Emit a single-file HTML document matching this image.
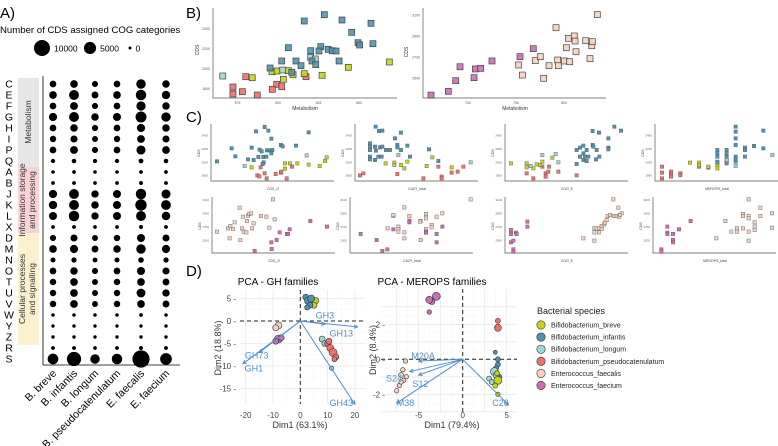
<!DOCTYPE html>
<html><head><meta charset="utf-8">
<style>
html,body{margin:0;padding:0;background:#fff;}
svg{display:block;font-family:"Liberation Sans",sans-serif;}
</style></head>
<body>
<svg id="fig" width="778" height="446" viewBox="0 0 778 446" xmlns="http://www.w3.org/2000/svg">
<g id="pA">
<text x="0" y="18" font-size="15">A)</text>
<text x="0" y="33" font-size="9.6">Number of CDS assigned COG categories</text>
<rect x="18" y="78" width="21" height="89" fill="#e6e6e6"/>
<rect x="18" y="167" width="21" height="66" fill="#f8d2d5"/>
<rect x="18" y="233" width="21" height="112" fill="#fcf0cf"/>
<text transform="translate(31,122) rotate(-90)" text-anchor="middle" font-size="8.5" fill="#333">Metabolism</text>
<text transform="translate(25,200) rotate(-90)" text-anchor="middle" font-size="8.5" fill="#333"><tspan x="0" dy="0">Information storage</tspan><tspan x="0" dy="10">and processing</tspan></text>
<text transform="translate(25,289) rotate(-90)" text-anchor="middle" font-size="8.5" fill="#333"><tspan x="0" dy="0">Cellular processes</tspan><tspan x="0" dy="10">and signalling</tspan></text>
<line x1="43" y1="76" x2="43" y2="365" stroke="#000" stroke-width="0.8"/>
<line x1="43" y1="365" x2="180" y2="365" stroke="#000" stroke-width="0.8"/>
</g>
<g id="pB">
<text x="186" y="18" font-size="15">B)</text>
</g>
<g id="pC">
<text x="186" y="122" font-size="15">C)</text>
</g>
<g id="pD">
<text x="186" y="276" font-size="15">D)</text>
<text x="278" y="285" font-size="10" text-anchor="middle">PCA - GH families</text>
<text x="432" y="285" font-size="10" text-anchor="middle">PCA - MEROPS families</text>
<text x="300" y="428" font-size="9" text-anchor="middle" fill="#333">Dim1 (63.1%)</text>
<text transform="translate(221,348) rotate(-90)" font-size="9" text-anchor="middle" fill="#333">Dim2 (18.8%)</text>
<text x="452" y="428" font-size="9" text-anchor="middle" fill="#333">Dim1 (79.4%)</text>
<text transform="translate(376,350) rotate(-90)" font-size="9" text-anchor="middle" fill="#333">Dim2 (8.4%)</text>
<text x="537" y="314" font-size="9" fill="#222">Bacterial species</text>
</g>
</svg>
<script>
const NS="http://www.w3.org/2000/svg";
const svg=document.getElementById('fig');
function mk(parent,tag,attrs,txt){const e=document.createElementNS(NS,tag);for(const k in attrs)e.setAttribute(k,attrs[k]);if(txt!==undefined)e.textContent=txt;parent.appendChild(e);return e;}

/* ---------- Panel A data ---------- */
const cogCats=["C","E","F","G","H","I","P","Q","A","B","J","K","L","X","D","M","N","O","T","U","V","W","Y","Z","R","S"];
const speciesA=["B. breve","B. infantis","B. longum","B. pseudocatenulatum","E. faecalis","E. faecium"];
const cdsBreve=[800,1300,800,1600,800,700,800,100,20,30,1600,1700,1500,30,600,1300,250,800,700,700,700,20,10,10,40,3500];
const cdsInfantis=[1300,2800,1400,2800,1200,1000,1400,150,30,40,2800,2800,3300,40,1000,1600,300,1200,1300,1300,1300,20,10,10,40,7500];
const cdsLongum=[600,900,600,1200,600,500,600,100,20,30,1100,1200,1100,30,500,900,200,600,500,500,500,20,10,10,30,2500];
const cdsPseudo=[800,1300,800,1500,800,700,800,100,20,30,1500,1500,1500,30,700,1200,250,800,700,700,700,20,10,10,40,3300];
const cdsFaecalis=[2500,3300,2300,3700,1600,1400,2200,200,30,50,3300,4200,2800,50,1500,2500,400,1500,1300,2000,1300,30,10,10,50,12000];
const cdsFaecium=[1200,1700,1200,2400,1200,1000,1300,150,30,40,2200,2700,1800,40,1000,1600,300,1000,900,1100,900,20,10,10,40,4500];
const sizeLegendVals=[10000,5000,0];
const sizeLegendLabels=["10000","5000","0"];

const pA=document.getElementById('pA');
const rScale=v=>1.5+6.5*Math.sqrt(Math.max(v,0)/10000);
const aY=i=>84+i*11;
const colPos=[53,74,95,117,141,166];
const aX=j=>colPos[j];
cogCats.forEach((c,i)=>{
  const t=mk(pA,'text',{x:9,y:aY(i)+3.6,'font-size':10.5,'text-anchor':'middle'},c);
  
  
});
const allA=[cdsBreve,cdsInfantis,cdsLongum,cdsPseudo,cdsFaecalis,cdsFaecium];
allA.forEach((arr,j)=>{
  arr.forEach((v,i)=>{
    const d=mk(pA,'circle',{cx:aX(j),cy:aY(i),r:rScale(v),fill:'#000'});
    
    
  });
  const lx=aX(j)+4, ly=374;
  const t=mk(pA,'text',{x:lx,y:ly,'font-size':10.6,'text-anchor':'end',transform:`rotate(-45 ${lx} ${ly})`},speciesA[j]);
  
  
});
const slX=[42,90,130];
sizeLegendVals.forEach((v,k)=>{
  const c=mk(pA,'circle',{cx:slX[k],cy:48,r:rScale(v),fill:'#000'});
  
  
  const t=mk(pA,'text',{x:slX[k]+rScale(v)+4,y:51.5,'font-size':8.5},sizeLegendLabels[k]);
  
  
});

/* ---------- colours ---------- */
const spNames=["Bifidobacterium_breve","Bifidobacterium_infantis","Bifidobacterium_longum","Bifidobacterium_pseudocatenulatum","Enterococcus_faecalis","Enterococcus_faecium"];
const spCols=["#c5d415","#4f93b2","#9fd6d2","#f0706b","#f7d0bf","#cc6fb2"];

/* ---------- Panel B data (Metabolism, CDS) ---------- */
const bBlueM=[628.6,616.2,639.5,657.4,645.5,649.4,658.6,650.4,606.4,626.4,620.2,625.3,631,633.5,635.8,602.3,611.1,637.7,614.2,621,623.3,595.1,608.5];
const bBlueC=[2543,2480,2490,2457,2367,2263,2253,2240,2213,2223,2183,2180,2197,2183,2180,2080,2080,2080,2033,2080,2043,2010,1967];
const bTealM=[620.2,623,602.9,565.9];
const bTealC=[2117,2100,1990,1930];
const bYelM=[668.7,643.4,596.3,599.4,606.4,609.3,616.2,627.2,584.1,603.3];
const bYelC=[2070,2017,1973,1980,1983,1943,1953,1937,1913,1897];
const bRedM=[580.1,617.3,599.2,602.3,596.5,578,587.2,572.2,572.2];
const bRedC=[1923,1923,1847,1823,1797,1773,1740,1820,1750];
const bFmM=[661.5,679.5,687.2,691.7,706.3,707.6,713.2,725,754.2,768];
const bFmC=[2340,2376,2477,2610,2506,2589,2595,2665,2706,2782];
const bFsM=[752.8,756.6,770.1,775.3,778.8,784.4,791.7,793.4,794.1,800.3,802.4,804.5,805.9,810.7,811.5,812.5,822.6,827.1,828.9,829.5,834.7];
const bFsC=[2627,2531,2668,2706,2500,2620,2982,2674,2620,2665,2791,2881,2658,2903,2855,2753,2858,2687,2810,2849,3106];
const bLeftXTicks=[575,600,625,650];
const bLeftYTicks=[1800,2000,2200,2400];
const bRightXTicks=[700,750,800];
const bRightYTicks=[2500,2700,2900,3100];

const pB=document.getElementById('pB');
const bLx=m=>278+(m-600)*1.62, bLy=c=>89-(c-1800)*0.1;
const bRx=m=>468+(m-700)*0.96, bRy=c=>78.3-(c-2500)*0.105;
function axesBox(g,x0,x1,y0,y1,name){
  const a=mk(g,'path',{d:`M${x0},${y0}V${y1}H${x1}`,fill:'none',stroke:'#555','stroke-width':0.7});
  
  
}
axesBox(pB,213,397,8,98,'b-left-axes');
axesBox(pB,423,606,8,98,'b-right-axes');
bLeftXTicks.forEach(v=>{const t=mk(pB,'text',{x:bLx(v),y:104,'font-size':3.5,'text-anchor':'middle',fill:'#555'},v);});
bLeftYTicks.forEach(v=>{const t=mk(pB,'text',{x:210,y:bLy(v)+1,'font-size':3.5,'text-anchor':'end',fill:'#555'},v);});
bRightXTicks.forEach(v=>{const t=mk(pB,'text',{x:bRx(v),y:104,'font-size':3.5,'text-anchor':'middle',fill:'#555'},v);});
bRightYTicks.forEach(v=>{const t=mk(pB,'text',{x:420,y:bRy(v)+1,'font-size':3.5,'text-anchor':'end',fill:'#555'},v);});
[[305,'b-left-x-title'],[515,'b-right-x-title']].forEach(([x,n])=>{const t=mk(pB,'text',{x:x,y:110,'font-size':5,'text-anchor':'middle',fill:'#333'},'Metabolism');});
[[199,50,'b-left-y-title'],[408,52,'b-right-y-title']].forEach(([x,y,n])=>{const t=mk(pB,'text',{x:x,y:y,'font-size':5,'text-anchor':'middle',fill:'#333',transform:`rotate(-90 ${x} ${y})`},'CDS');});
function sq(g,cx,cy,s,fill,name){const r=mk(g,'rect',{x:cx-s/2,y:cy-s/2,width:s,height:s,fill:fill,stroke:'#444','stroke-width':0.7,'fill-opacity':0.9});}
[[bRedM,bRedC,3],[bYelM,bYelC,0],[bTealM,bTealC,2],[bBlueM,bBlueC,1]].forEach(([ms,cs,k])=>ms.forEach((m,i)=>sq(pB,bLx(m),bLy(cs[i]),6,spCols[k],'b-point-'+spNames[k])));
[[bFsM,bFsC,4],[bFmM,bFmC,5]].forEach(([ms,cs,k])=>ms.forEach((m,i)=>sq(pB,bRx(m),bRy(cs[i]),6,spCols[k],'b-point-'+spNames[k])));

/* ---------- Panel C data ([feature value, CDS]) ---------- */
const c1Blue=[[18,2015],[62,2210],[73,2090],[111,2045],[122,2220],[128,2035],[135,2465],[142,2080],[146,2190],[152,2165],[157,2080],[161,2530],[166,2085],[168,2180],[172,2475],[174,2180],[181,2135],[181,2355],[184,2185],[210,2260],[215,2240],[255,2250],[293,2450],[158,2000],[155,1975]];
const c1Teal=[[101,1945],[287,2105]];
const c1Yel=[[122,1925],[222,1985],[222,1905],[237,1985],[259,1985],[293,1965],[326,1945],[342,2020],[347,2075]];
const c1Red=[[139,1805],[145,1790],[149,1925],[161,1835],[167,1760],[194,1825],[210,1845],[211,1860],[227,1760],[243,1935]];
const c2Blue=[[62,2535],[72,2470],[82,2475],[138,2445],[45,2285],[45,2235],[45,2185],[60,2235],[63,2175],[75,2225],[82,2235],[93,2185],[120,2360],[127,2260],[127,2225],[138,2185],[157,2250],[165,2085],[45,2085],[45,2045],[60,2035],[70,2085],[80,2085],[105,2185],[222,2195],[250,2020]];
const c2Teal=[[130,2110],[347,2000]];
const c2Yel=[[92,1985],[118,1995],[118,1960],[138,1960],[148,1910],[157,2010],[215,1945],[232,2075],[290,1925]];
const c2Red=[[15,1805],[25,1835],[127,1825],[205,1760],[250,1935],[260,1785],[260,1760],[290,1845],[308,1860],[325,1935]];
const c3Blue=[[263,2470],[282,2445],[328,2535],[348,2475],[310,2360],[310,2220],[310,2195],[215,2185],[225,2220],[235,2250],[245,2185],[235,2135],[225,2085],[240,2085],[250,2085],[235,2035],[245,2020],[263,2260],[265,2235],[275,2185],[273,2045],[283,2085],[215,1975]];
const c3Teal=[[112,2110],[152,2125],[160,2000],[77,1945]];
const c3Yel=[[18,1985],[65,1985],[65,1925],[85,1910],[95,1970],[105,1960],[112,2010],[142,2070]];
const c3Red=[[65,1835],[85,1760],[112,1935],[122,1835],[122,1785],[130,1860],[132,1935],[160,1860],[215,1805]];
const c4Blue=[[242,2535],[242,2460],[242,2360],[242,2260],[242,2085],[242,2045],[242,2010],[187,2185],[187,2135],[187,2085],[215,2185],[215,2135],[215,2085],[270,2220],[270,2185],[297,2245],[325,2475],[325,2210],[270,2085],[215,1985],[187,2010]];
const c4Teal=[[187,1995],[215,2010],[242,1945],[352,2110],[215,2035]];
const c4Yel=[[105,1995],[132,1995],[132,1960],[160,1935],[187,1960],[187,1910],[215,2025]];
const c4Red=[[21,1935],[21,1845],[21,1760],[48,1860],[48,1820],[48,1785],[76,1835],[76,1810],[132,1935],[160,1920]];
const c5Fs=[[15,2633],[48,2682],[55,2717],[63,2672],[53,2535],[83,2987],[90,2682],[95,2633],[93,2854],[103,2623],[105,2790],[108,2869],[112,2894],[117,2904],[120,2682],[125,2756],[147,2864],[163,2854],[172,2692],[183,3110],[188,2815],[85,2510],[68,2771]];
const c5Fm=[[128,2348],[178,2476],[179,2377],[194,2510],[203,2623],[225,2599],[228,2599],[233,2668],[295,2790],[345,2707]];
const c6Fs=[[113,2682],[130,2864],[130,2879],[145,2707],[145,2668],[145,2633],[163,2623],[163,2992],[163,2535],[178,2864],[212,2510],[212,2790],[228,2894],[228,2830],[228,2672],[245,2731],[245,2697],[260,2854],[277,2904],[362,3110],[210,2781]];
const c6Fm=[[32,2599],[80,2510],[97,2348],[112,2372],[130,2668],[178,2795],[178,2771],[228,2633],[260,2599],[260,2476],[277,2707],[228,2618]];
const c7Fm=[[18,2658],[18,2599],[18,2476],[25,2500],[25,2372],[25,2338],[33,2618],[35,2599],[67,2781],[67,2707]];
const c7Fs=[[235,2535],[268,2682],[268,2623],[268,2500],[275,2682],[282,2682],[282,2623],[290,2672],[290,2717],[297,2741],[300,2766],[305,2805],[308,2864],[315,2879],[325,3110],[327,2864],[335,2864],[340,2987],[342,2854],[350,2904],[345,2879]];
const c8Fm=[[25,2372],[25,2338],[43,2707],[43,2618],[43,2599],[60,2599],[60,2510],[60,2476],[78,2668],[113,2790]];
const c8Fs=[[190,2535],[217,2790],[235,2633],[252,2682],[252,2633],[270,2682],[270,2894],[270,2864],[287,3110],[287,2864],[287,2830],[287,2633],[287,2500],[305,2771],[305,2707],[305,2658],[322,2987],[322,2864],[357,2904],[357,2692]];
const cXTitles=["CDS_G","CAZY_total","COG_E","MEROPS_total"];
const cTopYTicks=[1800,2000,2200,2400];
const cBotYTicks=[2500,2700,2900,3100];

const pC=document.getElementById('pC');
const topX0=[211,355,505,655], botX0=[212,350,505,653];
const cTopY=c=>110+(2785-c)/15;
const cBotY=c=>190+(3248-c)/14.76;
const cX=(x0,v)=>x0+v/3;
const topSets=[[c1Red,c1Yel,c1Teal,c1Blue],[c2Red,c2Yel,c2Teal,c2Blue],[c3Red,c3Yel,c3Teal,c3Blue],[c4Red,c4Yel,c4Teal,c4Blue]];
const topKeys=[3,0,2,1];
const botSets=[[c5Fs,c5Fm],[c6Fs,c6Fm],[c7Fs,c7Fm],[c8Fs,c8Fm]];
const botKeys=[4,5];
function smallSq(cx,cy,fill,name){const r=mk(pC,'rect',{x:cx-1.7,y:cy-1.7,width:3.4,height:3.4,fill:fill,stroke:'#555','stroke-width':0.4});}
for(let p=0;p<4;p++){
  const x0=topX0[p];
  axesBox(pC,x0,x0+123,124,181,'c-top-axes-'+(p+1));
  cTopYTicks.forEach(v=>{const t=mk(pC,'text',{x:x0-3,y:cTopY(v)+1,'font-size':3,'text-anchor':'end',fill:'#666'},v);});
  const t1=mk(pC,'text',{x:x0+62,y:190,'font-size':3.5,'text-anchor':'middle',fill:'#444'},cXTitles[p]);
  const t2=mk(pC,'text',{x:x0-11,y:153,'font-size':3.5,'text-anchor':'middle',fill:'#444',transform:`rotate(-90 ${x0-11} 153)`},'CDS');
  topSets[p].forEach((set,k)=>set.forEach(([v,c])=>smallSq(cX(x0,v),cTopY(c),spCols[topKeys[k]],'c-point-'+spNames[topKeys[k]])));
  const bx=botX0[p];
  axesBox(pC,bx,bx+123,197,253,'c-bottom-axes-'+(p+1));
  cBotYTicks.forEach(v=>{const t=mk(pC,'text',{x:bx-3,y:cBotY(v)+1,'font-size':3,'text-anchor':'end',fill:'#666'},v);});
  const t3=mk(pC,'text',{x:bx+62,y:262,'font-size':3.5,'text-anchor':'middle',fill:'#444'},cXTitles[p]);
  const t4=mk(pC,'text',{x:bx-11,y:226,'font-size':3.5,'text-anchor':'middle',fill:'#444',transform:`rotate(-90 ${bx-11} 226)`},'CDS');
  botSets[p].forEach((set,k)=>set.forEach(([v,c])=>smallSq(cX(bx,v),cBotY(c),spCols[botKeys[k]],'c-point-'+spNames[botKeys[k]])));
}

/* ---------- Panel D data ---------- */
const ghPts=[[4.5,4,0],[5.5,4.5,0],[5,3.5,0],[2,5.3,1],[3,4.5,1],[3.5,3.5,1],[2.5,3,1],[4,5,1],[8,-4,2],[11.5,-10.5,2],[9,-5,2],[10,-5,3],[11,-6,3],[12,-7,3],[13,-8,3],[12.5,-8.5,3],[10.5,-4.5,3],[-8,-1,4],[-9,-1.5,4],[-8,-4,5],[-7,-3.7,5],[-9,-4.5,5]];
const ghSizes=[4.5,3.5,3,3,4,3,2.5,3.5,3,2.2,3,3,3.5,4,3,2.5,3,3.5,3,4,3,3];
const ghArrows=[["GH3",9,-0.7],["GH13",21,-1.3],["GH73",-15,-7],["GH1",-21,-9.5],["GH43",20,-18.5]];
const ghLabelPos=[[9,1.2],[15,-2.8],[-16,-7.7],[-17,-10.5],[15,-18.2]];
const ghXTicks=[-20,-10,0,10,20];
const ghYTicks=[5,0,-5,-10,-15];
const mePts=[[-3.5,3.3,5],[-3,3.6,5],[-3.8,3.4,5],[-3.8,2.7,5],[4,2.2,3],[4,1.8,3],[3.7,0.4,1],[4,0,1],[4,-0.3,1],[3.8,-0.5,1],[4.2,-1,1],[3.6,-0.7,2],[3,-1.1,2],[3.3,-1.3,2],[3.8,-0.9,2],[4,-1.2,0],[3.7,-1.5,0],[4,-2,0],[3.9,-0.8,0],[-6.5,-0.1,4],[-6.8,-0.6,4],[-7,-0.9,4],[-6.7,-1.2,4],[-7.2,-1.5,4],[-7.5,-1.8,4],[-6.4,-1,4],[-7,-1.3,4]];
const meSizes=[3,4,3.5,2.2,2.5,3.5,2,2.5,2.5,2.5,2.2,4,2.5,2.5,3,4,2.5,2.2,2.5,2.2,2.2,2.5,2.2,2.2,2.2,2.2,2.2];
const meArrows=[["M20A",-5,-0.1],["S24",-6,-0.7],["S12",-5,-0.9],["M38",-7.5,-2.5],["C26",5.2,-2.6]];
const meLabelPos=[[-4.5,0.2],[-7.8,-1.1],[-4.8,-1.4],[-6.5,-2.5],[4.3,-2.5]];
const meXTicks=[-5,0,5];
const meYTicks=[2,0,-2];

const pD=document.getElementById('pD');
const gx=v=>300.3+2.73*v, gy=v=>321-4.5*v;
const mx=v=>462.7+8.8*v, my=v=>359.3-17.5*v;
function grid(x0,x1,y0,y1,xs,ys,fx,fy,name){
  const g=mk(pD,'g',{});
  for(let i=0;i<xs.length;i++){mk(g,'line',{x1:fx(xs[i]),x2:fx(xs[i]),y1:y0,y2:y1,stroke:'#e8e8e8','stroke-width':0.8});}
  for(let i=0;i<ys.length;i++){mk(g,'line',{x1:x0,x2:x1,y1:fy(ys[i]),y2:fy(ys[i]),stroke:'#e8e8e8','stroke-width':0.8});}
  for(let i=0;i+1<xs.length;i++){const m=(fx(xs[i])+fx(xs[i+1]))/2;mk(g,'line',{x1:m,x2:m,y1:y0,y2:y1,stroke:'#f3f3f3','stroke-width':0.5});}
  for(let i=0;i+1<ys.length;i++){const m=(fy(ys[i])+fy(ys[i+1]))/2;mk(g,'line',{x1:x0,x2:x1,y1:m,y2:m,stroke:'#f3f3f3','stroke-width':0.5});}
}
grid(240,366,290,404,ghXTicks,ghYTicks,gx,gy,'gh-grid');
grid(381,517,289,412,[-7.5,-5,-2.5,0,2.5,5],[3,2,1,0,-1,-2,-3],mx,my,'merops-grid');
ghXTicks.forEach(v=>{const t=mk(pD,'text',{x:gx(v),y:418,'font-size':8,'text-anchor':'middle',fill:'#444'},v);});
ghYTicks.forEach(v=>{const t=mk(pD,'text',{x:236,y:gy(v)+3,'font-size':8,'text-anchor':'end',fill:'#444'},v+' -');});
meXTicks.forEach(v=>{const t=mk(pD,'text',{x:mx(v),y:418,'font-size':8,'text-anchor':'middle',fill:'#444'},v);});
meYTicks.forEach(v=>{const t=mk(pD,'text',{x:385,y:my(v)+3,'font-size':8,'text-anchor':'end',fill:'#444'},v+' -');});
function dash(x1,y1,x2,y2,name){const l=mk(pD,'line',{x1,y1,x2,y2,stroke:'#222','stroke-width':1,'stroke-dasharray':'4,3'});}
dash(240,gy(0),366,gy(0),'gh-zero-h');dash(gx(0),290,gx(0),404,'gh-zero-v');
dash(381,my(0),517,my(0),'merops-zero-h');dash(mx(0),289,mx(0),412,'merops-zero-v');
function pts(list,sizes,fx,fy,prefix){list.forEach(([a,b,k],i)=>{const c=mk(pD,'circle',{cx:fx(a),cy:fy(b),r:sizes[i],fill:spCols[k],stroke:'#333','stroke-width':0.6});});}
pts(ghPts,ghSizes,gx,gy,'gh');pts(mePts,meSizes,mx,my,'merops');
function arrows(list,labs,fx,fy,prefix){list.forEach(([n,a,b],i)=>{
  const x1=fx(0),y1=fy(0),x2=fx(a),y2=fy(b);
  const l=mk(pD,'line',{x1,y1,x2,y2,stroke:'#4f8fc9','stroke-width':1});
  const ang=Math.atan2(y2-y1,x2-x1),h=4;
  const hd=mk(pD,'path',{d:`M${x2-h*Math.cos(ang-0.45)},${y2-h*Math.sin(ang-0.45)}L${x2},${y2}L${x2-h*Math.cos(ang+0.45)},${y2-h*Math.sin(ang+0.45)}`,fill:'none',stroke:'#4f8fc9','stroke-width':1});
  const t=mk(pD,'text',{x:fx(labs[i][0]),y:fy(labs[i][1])+3,'font-size':9,'text-anchor':'middle',fill:'#4f8fc9'},n);
});}
arrows(ghArrows,ghLabelPos,gx,gy,'gh');arrows(meArrows,meLabelPos,mx,my,'merops');
spNames.forEach((n,k)=>{
  const y=325+k*12.1;
  const c=mk(pD,'circle',{cx:541,cy:y,r:4.2,fill:spCols[k],stroke:'#333','stroke-width':0.6});
  const t=mk(pD,'text',{x:551,y:y+2.5,'font-size':7,fill:'#222'},n);
});
</script>
</body></html>
